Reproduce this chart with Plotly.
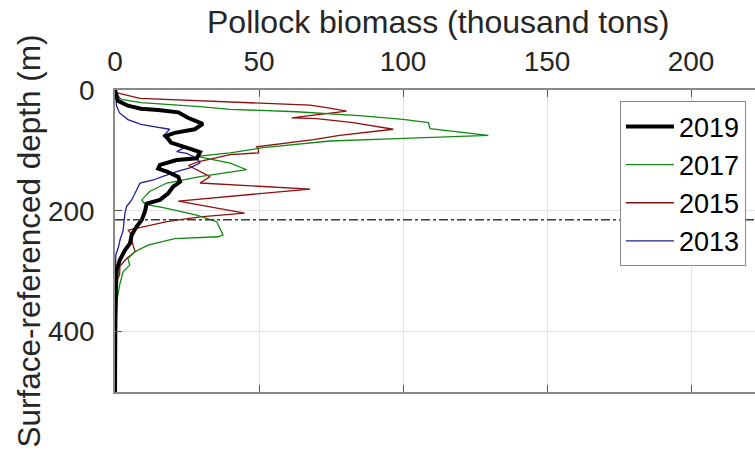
import plotly.graph_objects as go

# ---- data ----
depth_2019 = [0, 5, 18, 26, 31, 33, 37, 46, 56, 65, 71, 76, 87, 98, 103, 113, 116, 124, 130, 135,
              144, 152, 160, 171, 182, 188, 201, 215, 226, 240, 254, 265, 281, 298, 330, 400, 500]
biomass_2019 = [0, 0.3, 1, 4.5, 9, 15, 22, 25.3, 30.5, 27.7, 20.7, 17.7, 19.4, 26.4, 29.5, 28.4, 21.4, 15.6, 15, 18,
                22, 22.6, 20.2, 18.5, 15.6, 11, 10.4, 9.3, 7.5, 5.8, 5.2, 3.5, 1.7, 0.6, 0.3, 0.1, 0]

depth_2017 = [0, 4, 15.5, 21, 27.6, 32, 36, 41, 43, 48.6, 54, 64, 70.7, 75, 80.6, 84.4, 95.5, 104, 110, 121,
              132, 143.5, 154, 168, 182, 189, 196, 207, 218, 223, 240, 243, 246, 257, 268, 279, 290, 301,
              323, 345, 367, 400, 500]
biomass_2017 = [0, 0, 2.2, 9, 29.5, 40, 63, 82, 86, 100, 108.8, 109.4, 121, 129.6, 97.8, 74.6, 51.5, 40, 28.4, 40,
                45.7, 29.5, 18, 12, 9.3, 10.4, 18, 28.4, 35.3, 35.8, 37.5, 35.8, 20.7, 11.5, 6.8, 4.5, 5.1, 2.8,
                1.6, 0.8, 0.5, 0.1, 0]

depth_2015 = [0, 4, 14, 25, 29, 35, 46, 47.5, 54, 65, 75, 82, 94, 99, 104, 107, 119, 125, 143.5, 154,
              164, 184, 204, 210, 218, 232, 240, 248, 259, 268, 279, 292, 306, 315, 340, 400, 500]
biomass_2015 = [0, 0, 8.7, 67.7, 73.5, 80.4, 61.3, 70, 82.7, 96.6, 78, 68.9, 49.2, 49.8, 49.8, 40, 28.8, 25.5, 33, 29.5,
                67.7, 22, 45, 29.5, 18, 4.6, 5.8, 5.8, 6.4, 7, 4, 1.7, 1.6, 0.6, 0.2, 0.05, 0]

depth_2013 = [0, 5, 26, 38, 49, 57, 62, 65, 71, 76, 87, 95, 99, 102, 105, 110, 116, 121, 129, 135,
              143, 149, 154, 166, 182, 193, 203, 215, 233, 247, 260, 273, 300, 500]
biomass_2013 = [0, 0.3, 0.5, 1.6, 4.5, 9, 15, 19, 17.8, 16.7, 19.4, 24.2, 22.6, 21.4, 24.9, 27.2, 28.9, 29.5, 26, 21.4,
                16.7, 13.3, 8.7, 7.5, 5.8, 4, 3.5, 3.2, 2.8, 1.8, 1.2, 0.3, 0.1, 0]

years = ["2013", "2015", "2017", "2019"]
ref_depth = 215
x_ticks = [0, 50, 100, 150, 200]
y_ticks = [0, 200, 400]
x_range = [0, 222.2]
y_range = [500, 0]

FONT = "Liberation Sans, Arial, Helvetica, sans-serif"
TXT = "#262626"
AX = "#8a8a8a"

series = [
    (years[0], depth_2013, biomass_2013, "#1f1f96", 1.3),
    (years[1], depth_2015, biomass_2015, "#8c1010", 1.3),
    (years[2], depth_2017, biomass_2017, "#118a11", 1.3),
    (years[3], depth_2019, biomass_2019, "#000000", 4),
]

fig = go.Figure()
for name, d, b, c, w in series:
    fig.add_trace(go.Scatter(x=b, y=d, mode="lines", name=name,
                             line=dict(color=c, width=w)))

fig.add_hline(y=ref_depth, line=dict(color="#3a3a3a", width=1.5, dash="dashdot"))

axis_common = dict(showgrid=True, gridcolor="#e3e3e3", gridwidth=1, zeroline=False,
                   showline=True, linecolor=AX, linewidth=1.5, ticks="inside", ticklen=7,
                   tickcolor="#555555", tickfont=dict(family=FONT, size=28, color=TXT))

fig.update_xaxes(range=x_range, side="top", tickvals=x_ticks, mirror="ticks",
                 ticklabelstandoff=6, **axis_common)
fig.update_yaxes(range=y_range, tickvals=y_ticks, mirror=False,
                 ticklabelstandoff=13, **axis_common)

fig.add_annotation(text="Pollock biomass (thousand tons)", xref="paper", yref="paper",
                   x=0.504, y=1.225, showarrow=False, xanchor="center", yanchor="middle",
                   font=dict(family=FONT, size=32, color=TXT))
fig.add_annotation(text="Surface-referenced depth (m)", xref="paper", yref="paper",
                   x=-0.135, y=0.5, showarrow=False, textangle=-90, xanchor="center", yanchor="middle",
                   font=dict(family=FONT, size=31.5, color=TXT))

fig.update_layout(
    width=755, height=454,
    margin=dict(l=115, r=0, t=90, b=62),
    paper_bgcolor="white", plot_bgcolor="white",
    font=dict(family=FONT, color=TXT),
    legend=dict(x=0.789, y=0.962, xanchor="left", yanchor="top", bgcolor="white",
                bordercolor=AX, borderwidth=1, traceorder="reversed",
                font=dict(family=FONT, size=27, color="#000000"), itemwidth=48,
                tracegroupgap=0),
    showlegend=True,
)

fig.write_html("out.html")
